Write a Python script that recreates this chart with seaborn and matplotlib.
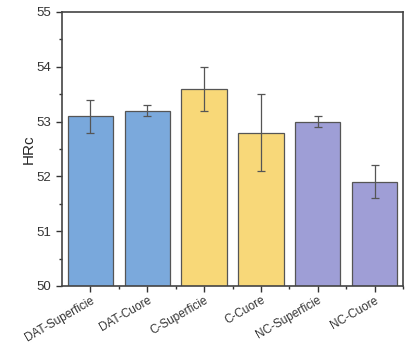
import matplotlib
matplotlib.use("Agg")
import matplotlib.pyplot as plt
import seaborn as sns
import pandas as pd
from matplotlib.ticker import MultipleLocator

categories = ["DAT-Superficie", "DAT-Cuore", "C-Superficie", "C-Cuore", "NC-Superficie", "NC-Cuore"]
values = [53.1, 53.2, 53.6, 52.8, 53.0, 51.9]
errors = [0.3, 0.1, 0.4, 0.7, 0.1, 0.3]
colors = ["#79a8dc", "#7ba9dc", "#f8d878", "#f8d879", "#9e9ed6", "#9f9ed6"]

sns.set_style("ticks")
plt.rcParams['font.family'] = ['Liberation Sans', 'DejaVu Sans']

df = pd.DataFrame({"cat": categories, "val": values})
fig = plt.figure(figsize=(4.19, 3.46), dpi=100)
ax = fig.add_axes([62/419, 1-286/346, 341/419, 274/346])
sns.barplot(data=df, x="cat", y="val", hue="cat", palette=colors, legend=False,
            saturation=1, width=0.8, edgecolor="#555555", linewidth=0.9, ax=ax, errorbar=None)
ax.errorbar(range(len(values)), values, yerr=errors, fmt="none", ecolor="#555555",
            elinewidth=0.9, capsize=3, capthick=0.9)
ax.set_ylim(50, 55)
ax.set_xlim(-0.5, 5.5)
ax.yaxis.set_major_locator(MultipleLocator(1))
ax.yaxis.set_minor_locator(MultipleLocator(0.5))
ax.set_xticks(range(len(categories)))
ax.set_xticks([i + 0.5 for i in range(len(categories))], minor=True)
ax.set_xticklabels(categories, rotation=30, ha="right", rotation_mode="anchor", fontsize=8.5)
ax.tick_params(axis="y", labelsize=9.5, direction="out", length=4, width=1, colors="#333333")
ax.tick_params(axis="x", direction="out", length=4, width=1, colors="#333333", pad=2)
ax.tick_params(which="minor", length=2.5, width=1, colors="#333333")
ax.set_xlabel("")
ax.set_ylabel("HRc", fontsize=11, labelpad=1)
for s in ax.spines.values():
    s.set_visible(True)
    s.set_color("#444444")
    s.set_linewidth(1.2)
fig.savefig("out.png", dpi=100)
